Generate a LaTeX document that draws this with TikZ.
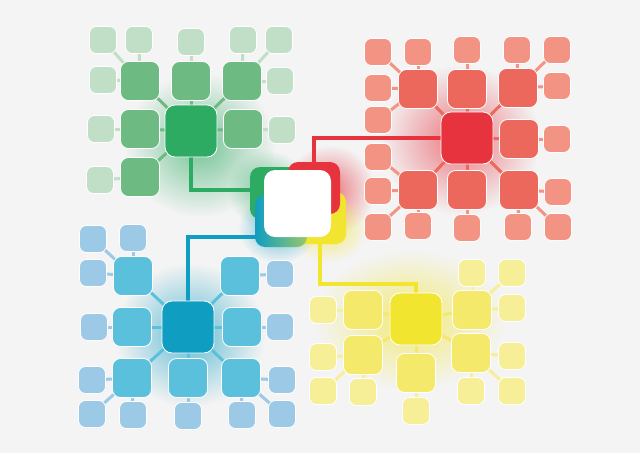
\documentclass[tikz,border=0pt]{standalone}
\usetikzlibrary{fadings,calc}
\definecolor{bgc}{HTML}{F4F4F4}
\definecolor{gM}{HTML}{2EAB63}
\definecolor{gm}{HTML}{6DBA83}
\definecolor{gs}{HTML}{C0DFC6}
\definecolor{rM}{HTML}{E6333E}
\definecolor{rm}{HTML}{EC685C}
\definecolor{rs}{HTML}{F29384}
\definecolor{bM}{HTML}{0F9DC2}
\definecolor{bm}{HTML}{5BC0DB}
\definecolor{bs}{HTML}{9CCAE6}
\definecolor{yM}{HTML}{F2E52F}
\definecolor{ym}{HTML}{F5E96C}
\definecolor{ys}{HTML}{F7EF98}
\tikzfading[name=glowfade, inner color=transparent!35, outer color=transparent!100]
\pgfdeclarelayer{glow}\pgfdeclarelayer{edges}\pgfsetlayers{glow,edges,main}
\begin{document}
\begin{tikzpicture}[x=1pt,y=-1pt,
 box/.style={draw=white, line width=0.8pt, inner sep=0pt, outer sep=0pt},
 bigbox/.style={box, minimum size=52pt, rounded corners=10pt},
 medbox/.style={box, minimum size=39pt, rounded corners=8pt},
 smallbox/.style={box, minimum size=27pt, rounded corners=7pt},
 link/.style={line width=3pt},
 mainlink/.style={line width=3.5pt}]
\useasboundingbox (0,0) rectangle (640,453);
\begin{pgfonlayer}{glow}
\fill[bgc] (0,0) rectangle (640,453);
\fill[gM, path fading=glowfade] (200,145) ellipse (75 and 72);
\fill[rM, path fading=glowfade] (460,140) ellipse (80 and 75);
\fill[bM, path fading=glowfade] (190,335) ellipse (75 and 72);
\fill[yM, path fading=glowfade] (410,320) ellipse (95 and 70);
\fill[rM, path fading=glowfade] (330,190) ellipse (45 and 45);
\fill[gM, path fading=glowfade] (268,190) ellipse (40 and 40);
\fill[bM, path fading=glowfade] (278,228) ellipse (40 and 35);
\fill[yM, path fading=glowfade] (328,228) ellipse (40 and 35);
\end{pgfonlayer}
% ---------- green cluster
\node[bigbox, fill=gM] (g0) at (191,131) {};
\foreach \n/\x/\y in {g1/140/81, g2/191/81, g3/242/81, g4/140/129, g5/243/129, g6/140/177}
  \node[medbox, fill=gm] (\n) at (\x,\y) {};
\foreach \n/\x/\y in {gs1/103/40, gs2/139/40, gs3/191/42, gs4/243/40, gs5/279/40, gs6/103/80, gs7/280/81, gs8/101/129, gs9/282/130, gs10/100/180}
  \node[smallbox, fill=gs] (\n) at (\x,\y) {};
% ---------- red cluster
\node[bigbox, fill=rM] (r0) at (467,138) {};
\foreach \n/\x/\y in {r1/418/89, r2/467/89, r3/518/88, r4/519/139, r5/418/190, r6/467/190, r7/519/190}
  \node[medbox, fill=rm] (\n) at (\x,\y) {};
\foreach \n/\x/\y in {rs1/378/52, rs2/418/52, rs3/467/50, rs4/517/50, rs5/557/50, rs6/378/88, rs7/557/86, rs8/378/120, rs9/557/139, rs10/378/157, rs11/378/191, rs12/378/227, rs13/418/226, rs14/467/228, rs15/518/227, rs16/558/192, rs17/558/227}
  \node[smallbox, fill=rs] (\n) at (\x,\y) {};
% ---------- blue cluster
\node[bigbox, fill=bM] (b0) at (188,327) {};
\foreach \n/\x/\y in {b1/133/276, b2/240/276, b3/132/327, b4/242/327, b5/132/378, b6/188/378, b7/241/378}
  \node[medbox, fill=bm] (\n) at (\x,\y) {};
\foreach \n/\x/\y in {bs1/93/239, bs2/133/238, bs3/93/273, bs4/280/274, bs5/94/327, bs6/280/327, bs7/92/380, bs8/92/414, bs9/133/415, bs10/188/416, bs11/242/415, bs12/282/380, bs13/282/414}
  \node[smallbox, fill=bs] (\n) at (\x,\y) {};
% ---------- yellow cluster
\node[bigbox, fill=yM] (yl0) at (416,319) {};
\foreach \n/\x/\y in {yl1/363/310, yl2/472/310, yl3/363/355, yl4/416/373, yl5/471/353}
  \node[medbox, fill=ym] (\n) at (\x,\y) {};
\foreach \n/\x/\y in {ys1/323/310, ys2/323/357, ys3/323/391, ys4/363/392, ys5/416/411, ys6/472/273, ys7/512/273, ys8/512/308, ys9/512/356, ys10/471/391, ys11/512/391}
  \node[smallbox, fill=ys] (\n) at (\x,\y) {};
% ---------- centre
\node[bigbox, draw=none, fill=gM] (cg) at (276,193) {};
\node[bigbox, draw=none, fill=yM] (cy) at (320,218) {};
\node[bigbox, draw=none, left color=bM, right color=bM!40!yM] (cb) at (281,221) {};
\node[bigbox, draw=none, fill=rM] (cr) at (314,188) {};
\node[box, draw=none, fill=white, minimum size=67pt, rounded corners=11pt] (cw) at (297.5,203.5) {};
\coordinate (yturn) at (370,284);
\begin{pgfonlayer}{edges}
\foreach \a/\b in {g0/g1, g0/g2, g0/g3, g0/g4, g0/g5, g0/g6}
  \draw[link, gm] (\a.center) -- (\b.center);
\foreach \a/\b in {gs1/g1, gs2/g1, gs6/g1, gs3/g2, gs4/g3, gs5/g3, gs7/g3, gs8/g4, gs9/g5, gs10/g6}
  \draw[link, gs] (\a.center) -- (\b.center);
\foreach \a/\b in {r0/r1, r0/r2, r0/r3, r0/r4, r0/r5, r0/r6, r0/r7}
  \draw[link, rm] (\a.center) -- (\b.center);
\foreach \a/\b in {rs1/r1, rs2/r1, rs6/r1, rs8/r1, rs3/r2, rs4/r3, rs5/r3, rs7/r3, rs9/r4, rs10/r5, rs11/r5, rs12/r5, rs13/r5, rs14/r6, rs15/r7, rs16/r7, rs17/r7}
  \draw[link, rs] (\a.center) -- (\b.center);
\foreach \a/\b in {b0/b1, b0/b2, b0/b3, b0/b4, b0/b5, b0/b6, b0/b7}
  \draw[link, bm] (\a.center) -- (\b.center);
\foreach \a/\b in {bs1/b1, bs2/b1, bs3/b1, bs4/b2, bs5/b3, bs6/b4, bs7/b5, bs8/b5, bs9/b5, bs10/b6, bs11/b7, bs12/b7, bs13/b7}
  \draw[link, bs] (\a.center) -- (\b.center);
\foreach \a/\b in {yl0/yl1, yl0/yl2, yl0/yl3, yl0/yl4, yl0/yl5}
  \draw[link, ym] (\a.center) -- (\b.center);
\foreach \a/\b in {ys1/yl1, ys2/yl3, ys3/yl3, ys4/yl3, ys5/yl4, ys6/yl2, ys7/yl2, ys8/yl2, ys9/yl5, ys10/yl5, ys11/yl5}
  \draw[link, ys] (\a.center) -- (\b.center);
\draw[mainlink, gM] (g0.center) |- ([yshift=3pt]cg.center);
\draw[mainlink, rM] (cr.center) |- (r0.center);
\draw[mainlink, bM] (b0.center) |- ([yshift=-16pt]cb.center);
\draw[mainlink, yM] (cy.center) |- (yturn) -| (yl0.center);
\end{pgfonlayer}
\end{tikzpicture}
\end{document}
